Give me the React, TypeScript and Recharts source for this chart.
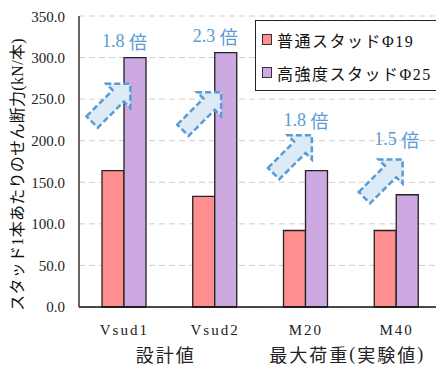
import {
  BarChart,
  Bar,
  XAxis,
  YAxis,
  CartesianGrid,
  Legend,
  ReferenceDot
} from "recharts";

// shear force per stud (kN/stud)
const categories = ["Vsud1", "Vsud2", "M20", "M40"];
const groups = ["設計値", "設計値", "最大荷重(実験値)", "最大荷重(実験値)"];
const normalStud = [164, 133, 92, 92];
const highStud = [300, 306, 164, 135];
const yTicks = [0, 50, 100, 150, 200, 250, 300, 350];

// heights (in kN) where the ratio arrows and their labels sit
const arrowLevels = [242, 232, 180, 151];
const ratioLabelLevels = [320, 326, 225, 202];

const data = categories.map((name, i) => ({
  name,
  group: groups[i],
  normal: normalStud[i],
  high: highStud[i]
}));

const SERIF = '"Liberation Serif", serif';
const CJK = '"Noto Sans CJK JP", sans-serif';
const MIXED = '"Liberation Serif", "Noto Sans CJK JP", serif';
const RED = "#FF8F8F";
const PURPLE = "#CCA9E1";
const BLUE = "#5B9BD5";

// split mixed text so latin runs get the serif face and kana/kanji the CJK face
const CJK_RUN = /[\u3000-\u9fff\uff00-\uffef]+|[^\u3000-\u9fff\uff00-\uffef]+/g;
function runs(s: string) {
  return (s.match(CJK_RUN) || []).map((t) => ({
    text: t,
    cjk: /[\u3000-\u9fff\uff00-\uffef]/.test(t)
  }));
}

function MixedTspans({ s }: { s: string }) {
  return (
    <>
      {runs(s).map((r, k) => (
        <tspan key={k} fontFamily={r.cjk ? CJK : SERIF}>
          {r.text}
        </tspan>
      ))}
    </>
  );
}

function XTick(props: any) {
  const { x, y, payload } = props;
  const i = payload.index;
  const half = payload.offset ?? 45;
  const showGroup = i === 0 || groups[i] !== groups[i - 1];
  return (
    <g>
      <text
        x={x}
        y={y + 23}
        textAnchor="middle"
        dominantBaseline="central"
        fontFamily={SERIF}
        fontSize={15}
        letterSpacing={2}
        fill="#222"
      >
        {payload.value}
      </text>
      {showGroup && (
        <text
          x={x + half - 4}
          y={y + 47}
          textAnchor="middle"
          dominantBaseline="central"
          fontSize={18}
          letterSpacing={2}
          fill="#222"
        >
          <MixedTspans s={groups[i]} />
        </text>
      )}
    </g>
  );
}

function YLabel(props: any) {
  const { viewBox } = props;
  const cx = 9;
  const cy = viewBox.y + viewBox.height / 2 + 13;
  return (
    <text
      x={cx}
      y={cy}
      transform={`rotate(-90, ${cx}, ${cy})`}
      textAnchor="middle"
      dominantBaseline="central"
      fontFamily={MIXED}
      fontSize={16}
      letterSpacing={0.3}
      fill="#111"
    >
      スタッド1本あたりのせん断力(kN/本)
    </text>
  );
}

function LegendBox(props: any) {
  const { payload } = props;
  return (
    <div
      style={{
        boxSizing: "border-box",
        width: 183,
        height: 71,
        border: "1.5px solid #222",
        background: "#fff",
        padding: "2px 0 0 6px"
      }}
    >
      {payload.map((entry: any) => (
        <div
          key={entry.value}
          style={{
            display: "flex",
            alignItems: "center",
            height: 33
          }}
        >
          <span
            style={{
              display: "inline-block",
              width: 8,
              height: 9,
              border: "1px solid #333",
              background: entry.color,
              marginRight: 5
            }}
          />
          <span style={{ fontSize: 16, letterSpacing: 1.5, color: "#111" }}>
            {runs(entry.value).map((r, k) => (
              <span key={k} style={{ fontFamily: r.cjk ? CJK : SERIF }}>
                {r.text}
              </span>
            ))}
          </span>
        </div>
      ))}
    </div>
  );
}

// block arrow pointing up-right
function RatioArrow(props: any) {
  const { cx, cy } = props;
  const d = "M-30,-8 L7,-8 L7,-17 L24,0 L7,17 L7,8 L-30,8 Z";
  return (
    <path
      d={d}
      transform={`translate(${cx - 3}, ${cy - 5}) rotate(-45)`}
      fill="#DDEBF7"
      stroke={BLUE}
      strokeWidth={2.5}
      strokeDasharray="6 3"
    />
  );
}

function ratioText(i: number) {
  return (highStud[i] / normalStud[i]).toFixed(1) + " 倍";
}

export default function App() {
  return (
    <BarChart
      width={436}
      height={361}
      data={data}
      margin={{ top: 8, right: 2, bottom: 0, left: 0 }}
      barGap={0}
      barSize={22}
    >
      <CartesianGrid
        vertical={false}
        stroke="#CFCFCF"
        strokeDasharray="6 4"
      />
      <XAxis
        dataKey="name"
        height={62}
        tickSize={0}
        tickMargin={0}
        tickLine={false}
        axisLine={{ stroke: "#111", strokeWidth: 1.5 }}
        tick={<XTick />}
        interval={0}
      />
      <XAxis
        xAxisId="top"
        dataKey="name"
        orientation="top"
        height={0}
        tick={false}
        tickLine={false}
        axisLine={{ stroke: "#111", strokeWidth: 1.5 }}
      />
      <YAxis
        width={71}
        domain={[0, 350]}
        ticks={yTicks}
        tickFormatter={(v: number) => v.toFixed(1)}
        tickLine={false}
        tickSize={6}
        tickMargin={8}
        axisLine={{ stroke: "#333", strokeWidth: 1.5 }}
        tick={{ fontFamily: SERIF, fontSize: 15, fill: "#222" }}
        label={<YLabel />}
      />
      <YAxis
        yAxisId="right"
        orientation="right"
        width={0}
        domain={[0, 350]}
        tick={false}
        tickLine={false}
        axisLine={{ stroke: "#444", strokeWidth: 1.2 }}
      />
      <Legend
        layout="vertical"
        align="center"
        verticalAlign="middle"
        wrapperStyle={{ top: 12, left: 247, width: "auto" }}
        content={<LegendBox />}
      />
      <Bar
        dataKey="normal"
        name="普通スタッドΦ19"
        fill={RED}
        stroke="#222"
        strokeWidth={1.3}
        isAnimationActive={false}
      />
      <Bar
        dataKey="high"
        name="高強度スタッドΦ25"
        fill={PURPLE}
        stroke="#222"
        strokeWidth={1.3}
        isAnimationActive={false}
      />
      {categories.map((c, i) => (
        <ReferenceDot
          key={"arrow-" + c}
          x={c}
          y={arrowLevels[i]}
          ifOverflow="visible"
          shape={(p: any) => <RatioArrow cx={p.cx - 8} cy={p.cy} />}
        />
      ))}
      {categories.map((c, i) => (
        <ReferenceDot
          key={"ratio-" + c}
          x={c}
          y={ratioLabelLevels[i]}
          ifOverflow="visible"
          shape={(p: any) => (
            <text
              x={p.cx}
              y={p.cy}
              textAnchor="middle"
              dominantBaseline="central"
              fontSize={18}
              fill={BLUE}
            >
              <MixedTspans s={ratioText(i)} />
            </text>
          )}
        />
      ))}
    </BarChart>
  );
}
